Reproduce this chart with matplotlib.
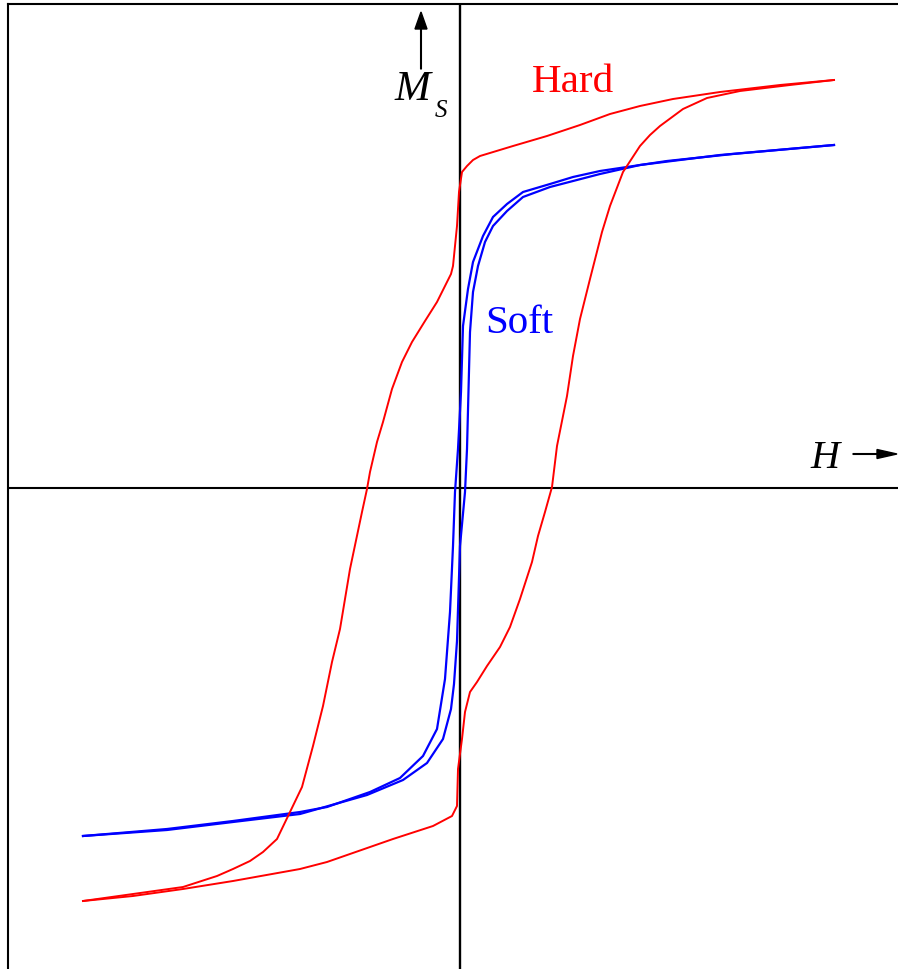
import matplotlib
matplotlib.use("Agg")
import matplotlib.pyplot as plt

# Field H and magnetisation M, both in arbitrary units (origin at the axis crossing)

# Hard magnet: descending branch (from +saturation to -saturation)
hard_down_H = [374, 320, 260, 213, 180, 150, 120, 87, 53, 20, 13, 7, 2, -1, -2, -3, -5, -7, -9,
               -13, -23, -35, -48, -58, -68, -77, -83, -90, -93, -98, -110, -120, -128, -137,
               -147, -158, -170, -183, -197, -210, -227, -243, -277, -327, -377]
hard_down_M = [408, 403, 396, 389, 382, 374, 363, 352, 342, 332, 328, 322, 316, 296, 279, 262,
               242, 222, 214, 206, 186, 167, 146, 126, 99, 66, 46, 16, -1, -24, -81, -141, -174,
               -218, -258, -299, -324, -351, -364, -373, -381, -388, -399, -406, -413]

# Hard magnet: ascending branch
hard_up_H = [-377, -327, -277, -227, -160, -133, -67, -27, -8, -3, -2, 2, 5, 10, 17, 27, 40, 50,
             60, 72, 78, 85, 92, 97, 107, 113, 120, 130, 142, 150, 163, 180, 190, 200, 223, 247,
             280, 330, 374]
hard_up_M = [-413, -408, -401, -393, -381, -374, -351, -338, -328, -318, -281, -251, -224, -204,
             -194, -178, -159, -139, -111, -74, -48, -24, 1, 42, 92, 132, 169, 209, 256, 282,
             316, 342, 353, 362, 379, 390, 397, 403, 408]

# Soft magnet: descending branch
soft_down_H = [374, 273, 207, 140, 113, 90, 63, 47, 33, 23, 13, 8, 3, 1, -2, -5, -7, -10, -15,
               -23, -37, -60, -90, -133, -160, -227, -293, -377]
soft_down_M = [343, 334, 327, 317, 311, 304, 296, 284, 271, 252, 226, 199, 162, 96, 39, -4, -58,
               -124, -191, -241, -268, -290, -304, -319, -324, -333, -341, -348]

# Soft magnet: ascending branch
soft_up_H = [-377, -293, -227, -160, -93, -57, -33, -17, -9, -6, -3, 0, 5, 7, 10, 13, 18, 25, 33,
             47, 63, 90, 140, 180, 260, 374]
soft_up_M = [-348, -342, -334, -326, -307, -292, -275, -251, -221, -196, -153, -58, -4, 39, 156,
             196, 222, 246, 262, 277, 291, 301, 314, 323, 333, 343]

RED = "#ff0000"
BLUE = "#0000ff"
SERIF = "Liberation Serif"

fig = plt.figure(figsize=(8.98, 9.70), dpi=100)
ax = fig.add_axes([8 / 898, 0, 890 / 898, 965.5 / 970])
ax.set_xlim(-452, 438)
ax.set_ylim(-481, 484.5)

# coordinate axes through the origin
ax.axhline(0.5, color="black", lw=1.5, zorder=1)
ax.axvline(0, color="black", lw=1.7, zorder=1)

# hysteresis loops
ax.plot(hard_down_H, hard_down_M, color=RED, lw=1.4, zorder=3)
ax.plot(hard_up_H, hard_up_M, color=RED, lw=1.4, zorder=3)
ax.plot(soft_down_H, soft_down_M, color=BLUE, lw=1.6, zorder=2)
ax.plot(soft_up_H, soft_up_M, color=BLUE, lw=1.6, zorder=2)

# labels
ax.text(72, 397, "Hard", color=RED, fontsize=29.5, family=SERIF, ha="left", va="baseline")
ax.text(25, 156, "Soft", color=BLUE, fontsize=29.5, family=SERIF, ha="left", va="baseline")
ax.text(-65, 389, "M", color="black", fontsize=31, family=SERIF, style="italic",
        ha="left", va="baseline")
ax.text(-25, 372, "S", color="black", fontsize=18, family=SERIF, style="italic",
        ha="left", va="baseline")
ax.text(350, 21, "H", color="black", fontsize=29, family=SERIF, style="italic",
        ha="left", va="baseline")

# axis direction arrows
ax.arrow(-39, 419, 0, 57, width=0.7, head_width=12, head_length=17,
         length_includes_head=True, color="black")
ax.arrow(393, 34, 44, 0, width=0.7, head_width=9, head_length=20,
         length_includes_head=True, color="black")

for side in ("right", "bottom"):
    ax.spines[side].set_visible(False)
for side in ("left", "top"):
    ax.spines[side].set_linewidth(1.5)
ax.set_xticks([])
ax.set_yticks([])

fig.savefig("out.png", dpi=100)
